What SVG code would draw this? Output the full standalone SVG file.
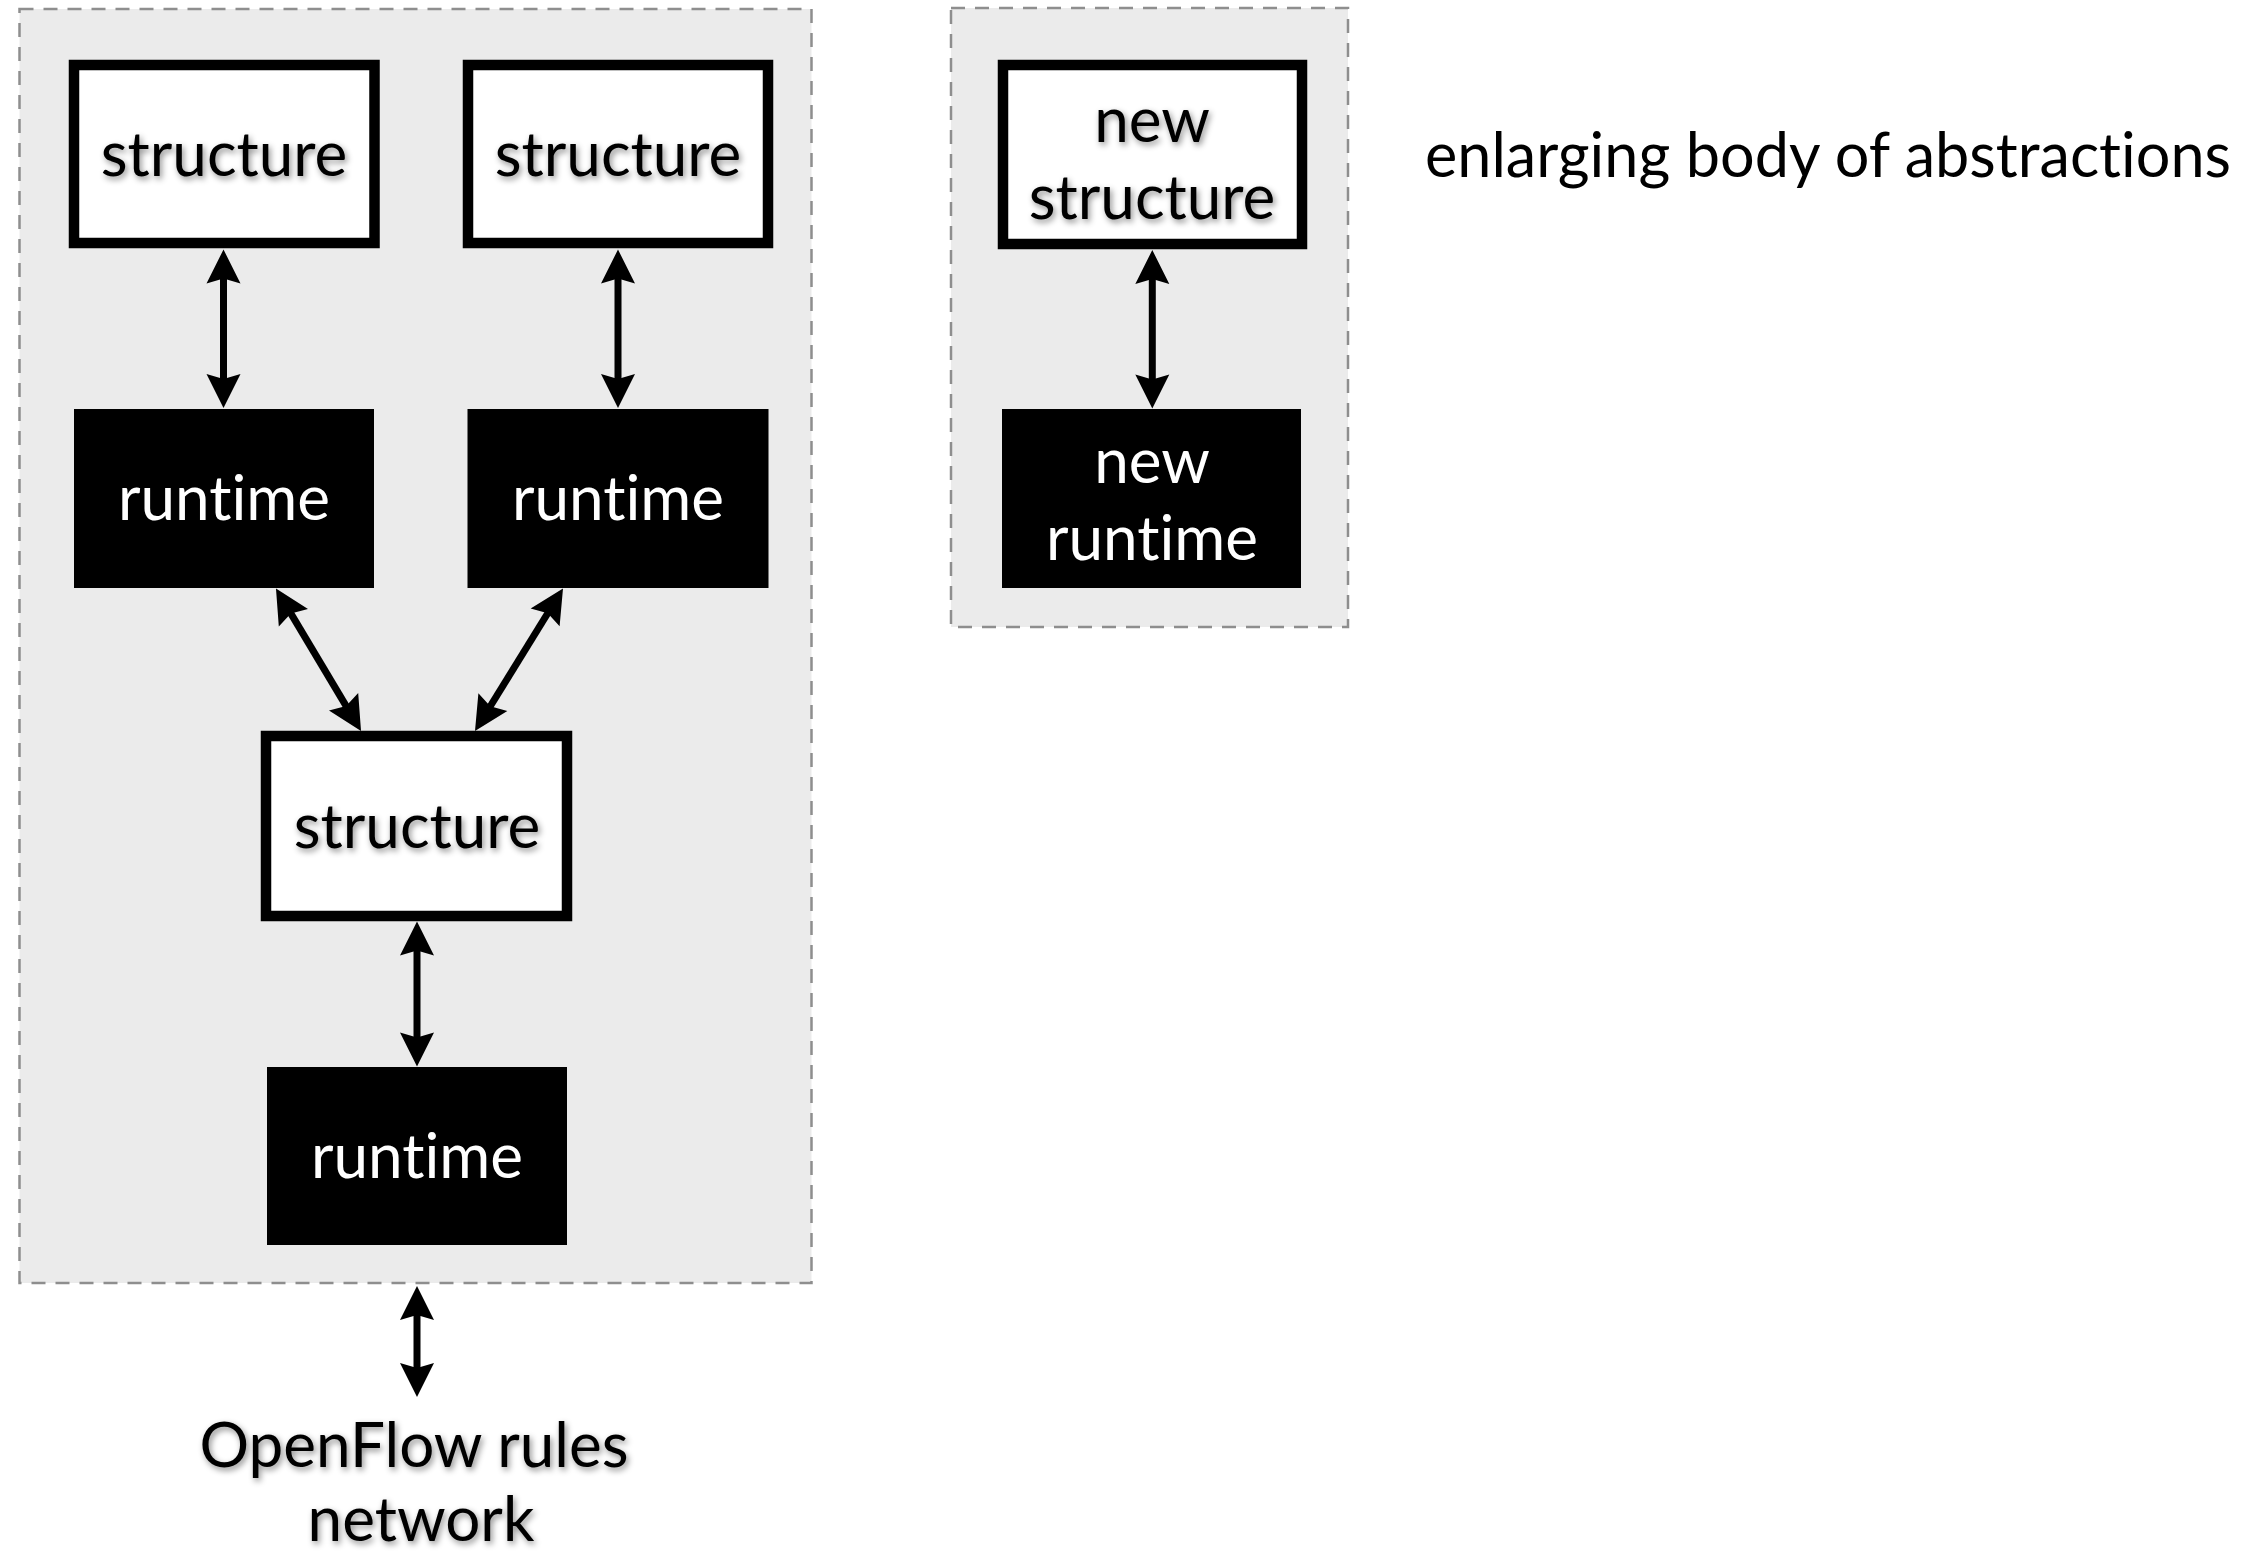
<svg xmlns="http://www.w3.org/2000/svg" width="2266" height="1552" viewBox="0 0 2266 1552">
  <style>
    .group { fill: #ebebeb; stroke: #8e8e8e; stroke-width: 2.5; stroke-dasharray: 14 10; }
    .struct { fill: #ffffff; stroke: #000000; stroke-width: 10.5; }
    .run { fill: #000000; }
    .lbl { font-family: "Lato", "Open Sans", "Liberation Sans", sans-serif; font-size: 62px; text-anchor: middle; font-variant-ligatures: none; font-feature-settings: "liga" 0, "clig" 0; }
    .dark { fill: #000000; filter: url(#soft); }
    .light { fill: #ffffff; }
    .link { stroke: #000000; stroke-width: 7; fill: none; marker-start: url(#head); marker-end: url(#head); }
  </style>
  <defs>
    <!-- notched double-ended arrowhead; tip sits 10px past the line end -->
    <marker id="head" viewBox="-36 -19 38 38" refX="-10" refY="0" markerWidth="38" markerHeight="38" markerUnits="userSpaceOnUse" orient="auto-start-reverse">
      <path d="M0,0 L-34,-17 L-29,0 L-34,17 Z" fill="#000000"/>
    </marker>
    <filter id="soft" x="-10%" y="-30%" width="120%" height="160%">
      <feGaussianBlur in="SourceAlpha" stdDeviation="3"/>
      <feOffset dx="2" dy="3" result="b"/>
      <feFlood flood-color="#000000" flood-opacity="0.45"/>
      <feComposite in2="b" operator="in"/>
      <feMerge>
        <feMergeNode/>
        <feMergeNode in="SourceGraphic"/>
      </feMerge>
    </filter>
  </defs>

  <!-- dashed containers -->
  <rect id="stack" class="group" x="19.5" y="9" width="792" height="1274"/>
  <rect id="extension" class="group" x="951" y="8" width="397" height="619"/>

  <!-- connectors -->
  <g id="connectors">
    <line class="link" x1="223.5" y1="259.5" x2="223.5" y2="398"/>
    <line class="link" x1="618" y1="259.5" x2="618" y2="398"/>
    <line class="link" x1="281.1" y1="597.1" x2="355.9" y2="722.4"/>
    <line class="link" x1="557.75" y1="597" x2="480.25" y2="722.5"/>
    <line class="link" x1="417" y1="931.5" x2="417" y2="1056.5"/>
    <line class="link" x1="417" y1="1296" x2="417" y2="1387"/>
    <line class="link" x1="1152.3" y1="260" x2="1152.3" y2="398.5"/>
  </g>

  <g id="structure-a">
    <rect class="struct" x="74" y="65" width="300.5" height="178"/>
    <text class="lbl dark" x="224" y="176">structure</text>
  </g>
  <g id="structure-b">
    <rect class="struct" x="468" y="65" width="300" height="178"/>
    <text class="lbl dark" x="618" y="176">structure</text>
  </g>
  <g id="runtime-a">
    <rect class="run" x="74" y="409" width="300" height="179"/>
    <text class="lbl light" x="224" y="520">runtime</text>
  </g>
  <g id="runtime-b">
    <rect class="run" x="467.5" y="409" width="301" height="179"/>
    <text class="lbl light" x="618" y="520">runtime</text>
  </g>
  <g id="structure-c">
    <rect class="struct" x="266" y="736" width="301" height="180"/>
    <text class="lbl dark" x="417" y="848">structure</text>
  </g>
  <g id="runtime-c">
    <rect class="run" x="267" y="1067" width="300" height="178"/>
    <text class="lbl light" x="417" y="1178">runtime</text>
  </g>
  <g id="new-structure">
    <rect class="struct" x="1003" y="65" width="299" height="179"/>
    <text class="lbl dark" x="1152" y="142">new</text>
    <text class="lbl dark" x="1152" y="219">structure</text>
  </g>
  <g id="new-runtime">
    <rect class="run" x="1002" y="409" width="299" height="179"/>
    <text class="lbl light" x="1152" y="483">new</text>
    <text class="lbl light" x="1152" y="560">runtime</text>
  </g>
  <g id="network">
    <text class="lbl dark" x="414" y="1467">OpenFlow rules</text>
    <text class="lbl dark" x="421" y="1541">network</text>
  </g>
  <g id="caption">
    <text class="lbl" x="1425" y="177" textLength="806" lengthAdjust="spacingAndGlyphs" style="text-anchor:start">enlarging body of abstractions</text>
  </g>
</svg>
